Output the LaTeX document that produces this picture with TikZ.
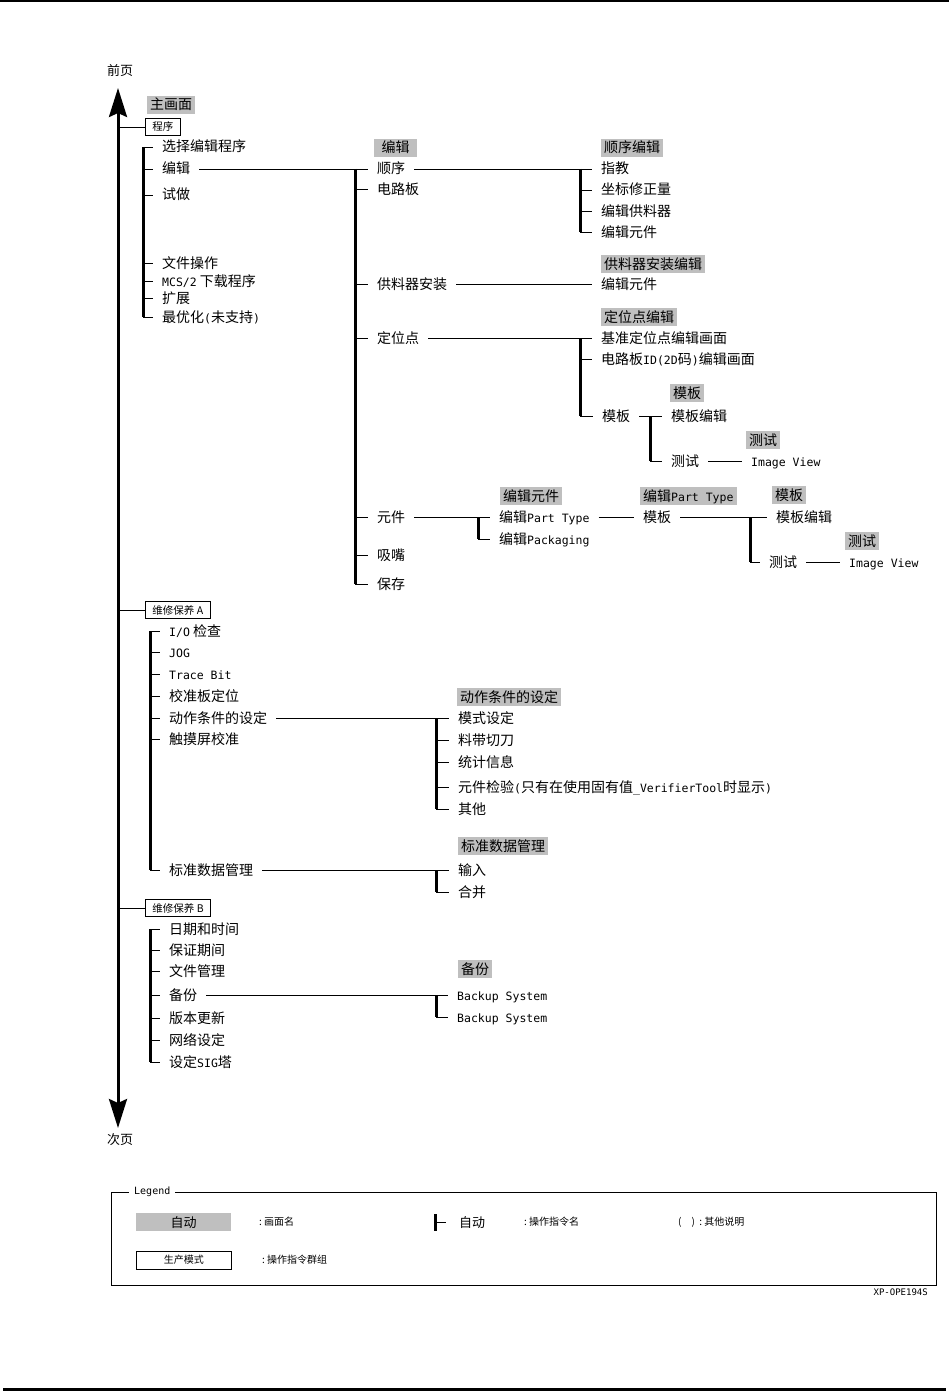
\documentclass[tikz,border=0pt]{standalone}
\usepackage{fontspec}
\setmainfont{Noto Sans CJK SC}
\newfontfamily\latfont{DejaVu Sans Mono}
\newcommand{\mono}[1]{{\latfont\fontsize{11.5}{14}\selectfont #1}}
\usetikzlibrary{arrows.meta}

\tikzset{
  item/.style={anchor=west, xshift=-9pt, inner xsep=9pt, inner ysep=0pt, text height=11.5pt, text depth=1.5pt, font=\fontsize{14}{16}\selectfont},
  screen/.style={anchor=west, fill=gray!50, inner xsep=3pt, inner ysep=0pt, minimum height=18pt, text height=11.5pt, text depth=1.5pt, font=\fontsize{14}{16}\selectfont},
  group/.style={draw, line width=0.9pt, anchor=west, inner xsep=7pt, inner ysep=0pt, minimum height=17pt, font=\fontsize{10.5}{12}\selectfont},
  note/.style={anchor=west, inner sep=0pt, font=\fontsize{10}{12}\selectfont},
  bar/.style={line width=3pt},
  link/.style={line width=0.9pt},
  pagetip/.style={line width=3pt, {Stealth[length=29pt,width=18pt,inset=4pt]}-{Stealth[length=29pt,width=18pt,inset=4pt]}},
}

\begin{document}
\begin{tikzpicture}[x=1pt, y=-1pt]
\useasboundingbox (0,0) rectangle (949,1391);
\draw[line width=3pt] (0,1) -- (949,1);
\draw[line width=3pt] (3,1389) -- (946,1389);

% page spine
\node[font=\fontsize{13}{15}\selectfont] (prev) at (120,71) {前页};
\node[font=\fontsize{13}{15}\selectfont] (next) at (120,1140) {次页};
\coordinate (top) at (118,88);
\coordinate (bot) at (118,1128);
\draw[pagetip] (top) -- (bot);

\coordinate (b1) at (143,0);
\coordinate (b2) at (355,0);
\coordinate (b3) at (580,0);
\coordinate (b4) at (650,0);
\coordinate (b5) at (478,0);
\coordinate (b6) at (750,0);
\coordinate (b7) at (150,0);
\coordinate (b8) at (436,0);

% main screen / program
\node[screen] (main) at (147,105) {主画面};
\node[group] (prog) at (145,127) {程序};
\draw[link] (prog.west -| top) -- (prog.west);

\node[item] (p1) at (162,147) {选择编辑程序};
\node[item] (p2) at (162,169) {编辑};
\node[item] (p3) at (162,195) {试做};
\node[item] (p4) at (162,263) {文件操作};
\node[item] (p5) at (162,281) {\mono{MCS/2} 下载程序};
\node[item] (p6) at (162,298) {扩展};
\node[item] (p7) at (162,317) {最优化\mono{(}未支持\mono{)}};
\draw[bar] (p1.west -| b1) -- (p7.west -| b1);
\foreach \n in {p1,p2,p3,p4,p5,p6,p7}
  \draw[link] (\n.west -| b1) -- (\n.west);

% edit
\node[screen, minimum width=43pt] (edit) at (374,148) {编辑};
\node[item] (e1) at (377,169) {顺序};
\node[item] (e2) at (377,189) {电路板};
\node[item] (e3) at (377,284) {供料器安装};
\node[item] (e4) at (377,338) {定位点};
\node[item] (e5) at (377,517) {元件};
\node[item] (e6) at (377,555) {吸嘴};
\node[item] (e7) at (377,584) {保存};
\draw[bar] (e1.west -| b2) -- (e7.west -| b2);
\foreach \n in {e1,e2,e3,e4,e5,e6,e7}
  \draw[link] (\n.west -| b2) -- (\n.west);
\draw[link] (p2.east) -- (e1.west);

% sequence edit
\node[screen] (seq) at (601,148) {顺序编辑};
\node[item] (s1) at (601,169) {指教};
\node[item] (s2) at (601,190) {坐标修正量};
\node[item] (s3) at (601,211) {编辑供料器};
\node[item] (s4) at (601,232) {编辑元件};
\draw[bar] (s1.west -| b3) -- (s4.west -| b3);
\foreach \n in {s1,s2,s3,s4}
  \draw[link] (\n.west -| b3) -- (\n.west);
\draw[link] (e1.east) -- (s1.west);

% feeder setup edit
\node[screen] (feed) at (601,264) {供料器安装编辑};
\node[item] (f1) at (601,284) {编辑元件};
\draw[link] (e3.east) -- (f1.west);

% fiducial edit
\node[screen] (fid) at (601,317) {定位点编辑};
\node[item] (l1) at (601,338) {基准定位点编辑画面};
\node[item] (l2) at (601,359) {电路板\mono{ID(2D}码\mono{)}编辑画面};
\node[item] (l3) at (602,416) {模板};
\draw[bar] (l1.west -| b3) -- (l3.west -| b3);
\foreach \n in {l1,l2,l3}
  \draw[link] (\n.west -| b3) -- (\n.west);
\draw[link] (e4.east) -- (l1.west);

\node[screen] (tmpa) at (670,393) {模板};
\node[item] (t1) at (671,416) {模板编辑};
\node[item] (t2) at (671,461) {测试};
\draw[bar] (t1.west -| b4) -- (t2.west -| b4);
\draw[link] (t2.west -| b4) -- (t2.west);
\draw[link] (l3.east) -- (t1.west);
\node[screen] (testa) at (746,440) {测试};
\node[item] (v1) at (751,461) {\mono{Image View}};
\draw[link] (t2.east) -- (v1.west);

% part edit
\node[screen] (part) at (500,496) {编辑元件};
\node[item] (c1) at (499,517) {编辑\mono{Part Type}};
\node[item] (c2) at (499,539) {编辑\mono{Packaging}};
\draw[bar] (c1.west -| b5) -- (c2.west -| b5);
\draw[link] (c2.west -| b5) -- (c2.west);
\draw[link] (e5.east) -- (c1.west);

\node[screen] (ptype) at (640,496) {编辑\mono{Part Type}};
\node[item] (k1) at (643,517) {模板};
\draw[link] (c1.east) -- (k1.west);

\node[screen] (tmpb) at (772,495) {模板};
\node[item] (m1) at (776,517) {模板编辑};
\node[item] (m2) at (769,562) {测试};
\draw[bar] (m1.west -| b6) -- (m2.west -| b6);
\draw[link] (m2.west -| b6) -- (m2.west);
\draw[link] (k1.east) -- (m1.west);
\node[screen] (testb) at (845,541) {测试};
\node[item] (w1) at (849,562) {\mono{Image View}};
\draw[link] (m2.east) -- (w1.west);

% maintenance A
\node[group] (mta) at (145,610) {维修保养\ A};
\draw[link] (mta.west -| top) -- (mta.west);
\node[item] (a1) at (169,631) {\mono{I/O} 检查};
\node[item] (a2) at (169,652) {\mono{JOG}};
\node[item] (a3) at (169,674) {\mono{Trace Bit}};
\node[item] (a4) at (169,696) {校准板定位};
\node[item] (a5) at (169,718) {动作条件的设定};
\node[item] (a6) at (169,739) {触摸屏校准};
\node[item] (a7) at (169,870) {标准数据管理};
\draw[bar] (a1.west -| b7) -- (a7.west -| b7);
\foreach \n in {a1,a2,a3,a4,a5,a6,a7}
  \draw[link] (\n.west -| b7) -- (\n.west);

\node[screen] (cond) at (457,697) {动作条件的设定};
\node[item] (o1) at (458,718) {模式设定};
\node[item] (o2) at (458,740) {料带切刀};
\node[item] (o3) at (458,762) {统计信息};
\node[item] (o4) at (458,787) {元件检验\mono{(}只有在使用固有值\mono{\_VerifierTool}时显示\mono{)}};
\node[item] (o5) at (458,809) {其他};
\draw[bar] (o1.west -| b8) -- (o5.west -| b8);
\foreach \n in {o1,o2,o3,o4,o5}
  \draw[link] (\n.west -| b8) -- (\n.west);
\draw[link] (a5.east) -- (o1.west);

\node[screen] (std) at (458,846) {标准数据管理};
\node[item] (d1) at (458,870) {输入};
\node[item] (d2) at (458,892) {合并};
\draw[bar] (d1.west -| b8) -- (d2.west -| b8);
\draw[link] (d2.west -| b8) -- (d2.west);
\draw[link] (a7.east) -- (d1.west);

% maintenance B
\node[group] (mtb) at (145,908) {维修保养\ B};
\draw[link] (mtb.west -| top) -- (mtb.west);
\node[item] (g1) at (169,929) {日期和时间};
\node[item] (g2) at (169,950) {保证期间};
\node[item] (g3) at (169,971) {文件管理};
\node[item] (g4) at (169,995) {备份};
\node[item] (g5) at (169,1018) {版本更新};
\node[item] (g6) at (169,1040) {网络设定};
\node[item] (g7) at (169,1062) {设定\mono{SIG}塔};
\draw[bar] (g1.west -| b7) -- (g7.west -| b7);
\foreach \n in {g1,g2,g3,g4,g5,g6,g7}
  \draw[link] (\n.west -| b7) -- (\n.west);

\node[screen] (bak) at (458,969) {备份};
\node[item] (u1) at (457,995) {\mono{Backup System}};
\node[item] (u2) at (457,1017) {\mono{Backup System}};
\draw[bar] (u1.west -| b8) -- (u2.west -| b8);
\draw[link] (u2.west -| b8) -- (u2.west);
\draw[link] (g4.east) -- (u1.west);

% legend
\draw[link] (111,1192) rectangle (936,1285);
\node[note, fill=white, inner xsep=5pt] (leg) at (129,1192) {\latfont Legend};
\node[screen, minimum width=95pt, font=\fontsize{13}{15}\selectfont] (lscr) at (136,1222) {自动};
\node[note] (lscrt) at (259,1222) {:\ 画面名};
\coordinate (lb) at (435,0);
\node[item, font=\fontsize{13}{15}\selectfont] (lop) at (459,1222) {自动};
\draw[bar] ([yshift=-8.5pt]lop.west -| lb) -- ([yshift=8.5pt]lop.west -| lb);
\draw[link] (lop.west -| lb) -- ([xshift=-4pt]lop.west);
\node[note] (lopt) at (524,1222) {:\ 操作指令名};
\node[note] (lpar) at (678,1222) {(\quad)\ \ :\ 其他说明};
\node[group, anchor=west, minimum width=95pt, minimum height=18pt, font=\fontsize{10}{12}\selectfont] (lgrp) at (136,1260) {生产模式};
\node[note] (lgrpt) at (262,1260) {:\ 操作指令群组};
\node[anchor=east, inner sep=0pt] (code) at (928,1292) {\latfont\fontsize{9}{11}\selectfont XP-OPE194S};
\end{tikzpicture}
\end{document}
